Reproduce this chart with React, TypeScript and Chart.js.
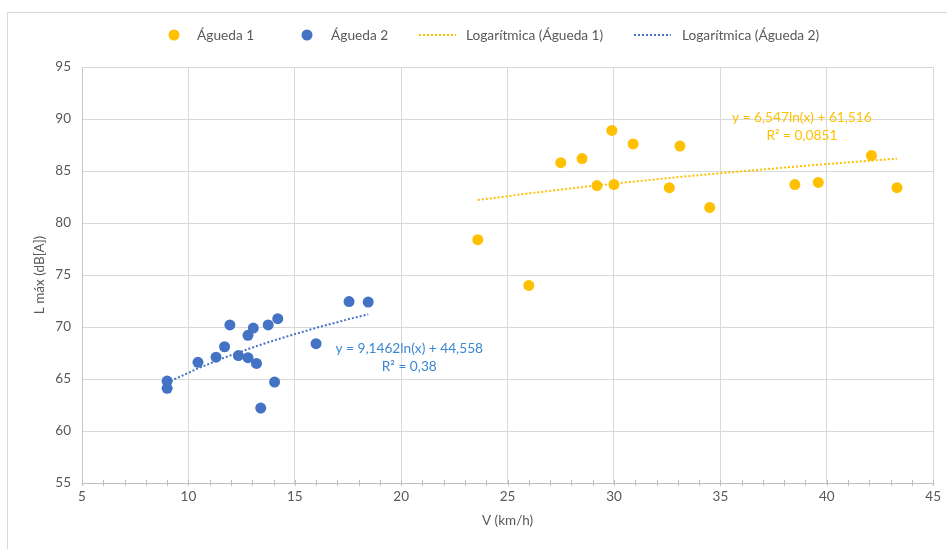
import { useEffect, useRef } from "react";
import { Chart, registerables } from "chart.js";

Chart.register(...registerables);

// Speed (km/h) and maximum sound level (dB[A]) for each measurement site
const speed1 = [23.6, 26.0, 27.5, 28.5, 29.2, 29.9, 30.0, 30.9, 32.6, 33.1, 34.5, 38.5, 39.6, 42.1, 43.3];
const level1 = [78.4, 74.0, 85.8, 86.2, 83.6, 88.9, 83.7, 87.6, 83.4, 87.4, 81.5, 83.7, 83.9, 86.5, 83.4];

const speed2 = [9.0, 9.0, 10.45, 11.3, 11.7, 11.95, 12.35, 12.8, 12.8, 13.05, 13.2, 13.4, 13.75, 14.05, 14.2, 16.0, 17.55, 18.45];
const level2 = [64.8, 64.1, 66.6, 67.1, 68.1, 70.2, 67.25, 67.05, 69.2, 69.9, 66.5, 62.2, 70.2, 64.7, 70.8, 68.4, 72.45, 72.4];

// Logarithmic fits: y = a * ln(x) + b
const fit1 = { a: 6.547, b: 61.516, r2: "0,0851" };
const fit2 = { a: 9.1462, b: 44.558, r2: "0,38" };

const seriesNames = ["Águeda 1", "Águeda 2", "Logarítmica (Águeda 1)", "Logarítmica (Águeda 2)"];
const xRange = [5, 45];
const yRange = [55, 95];
const tickStep = 5;

const ORANGE = "#FFC000";
const BLUE = "#4472C4";
const BLUE_TEXT = "#3A87D3";
const TEXT = "#595959";
const FONT = "Lato, 'Open Sans', sans-serif";

const fmt = (v: number) => v.toLocaleString("pt-PT", { useGrouping: false, maximumFractionDigits: 4 });

// Trend curve evaluated at the observed speeds of the series
function trendPoints(xs: number[], fit: { a: number; b: number }) {
  const uniq = Array.from(new Set(xs)).sort((p, q) => p - q);
  return uniq.map((x) => ({ x, y: fit.a * Math.log(x) + fit.b }));
}

const framePlugin = {
  id: "frame",
  beforeDraw(chart: any) {
    const { ctx, width, height } = chart;
    ctx.save();
    ctx.fillStyle = "#ffffff";
    ctx.fillRect(0, 0, width, height);
    ctx.strokeStyle = "#d9d9d9";
    ctx.lineWidth = 1;
    ctx.strokeRect(7.5, 12.5, width + 20, height + 20);
    ctx.restore();
  },
};

const minorTicksPlugin = {
  id: "minorTicks",
  afterDraw(chart: any) {
    const { ctx, chartArea, scales } = chart;
    const x = scales.x;
    ctx.save();
    ctx.strokeStyle = "#bfbfbf";
    ctx.lineWidth = 1;
    for (let v = xRange[0]; v <= xRange[1]; v += 1) {
      const px = Math.round(x.getPixelForValue(v)) + 0.5;
      ctx.beginPath();
      ctx.moveTo(px, chartArea.bottom - 3);
      ctx.lineTo(px, chartArea.bottom + 3);
      ctx.stroke();
    }
    ctx.restore();
  },
};

const equationLabels = [
  { lines: [`y = ${fmt(fit1.a)}ln(x) + ${fmt(fit1.b)}`, `R² = ${fit1.r2}`], color: ORANGE, x: 38.83, y: 90.1 },
  { lines: [`y = ${fmt(fit2.a)}ln(x) + ${fmt(fit2.b)}`, `R² = ${fit2.r2}`], color: BLUE_TEXT, x: 20.38, y: 67.95 },
];

const equationPlugin = {
  id: "equations",
  afterDatasetsDraw(chart: any) {
    const { ctx, scales } = chart;
    ctx.save();
    ctx.font = `13.7px ${FONT}`;
    ctx.textAlign = "center";
    ctx.textBaseline = "middle";
    for (const lab of equationLabels) {
      const px = scales.x.getPixelForValue(lab.x);
      const py = scales.y.getPixelForValue(lab.y);
      ctx.fillStyle = lab.color;
      lab.lines.forEach((t, i) => ctx.fillText(t, px, py + i * 18));
    }
    ctx.restore();
  },
};

const legendItems = [
  { kind: "dot", color: ORANGE, label: seriesNames[0], mx: 174, tx: 197 },
  { kind: "dot", color: BLUE, label: seriesNames[1], mx: 307, tx: 331 },
  { kind: "line", color: ORANGE, label: seriesNames[2], mx: 419, tx: 466 },
  { kind: "line", color: BLUE, label: seriesNames[3], mx: 634, tx: 682 },
];

const legendPlugin = {
  id: "topLegend",
  afterDraw(chart: any) {
    const { ctx } = chart;
    const y = 35;
    ctx.save();
    ctx.font = `13.7px ${FONT}`;
    ctx.textBaseline = "middle";
    ctx.textAlign = "left";
    for (const it of legendItems) {
      if (it.kind === "dot") {
        ctx.fillStyle = it.color;
        ctx.beginPath();
        ctx.arc(it.mx, y, 5.5, 0, Math.PI * 2);
        ctx.fill();
      } else {
        ctx.strokeStyle = it.color;
        ctx.lineWidth = 2;
        ctx.setLineDash([2, 2]);
        ctx.beginPath();
        ctx.moveTo(it.mx, y);
        ctx.lineTo(it.mx + 37, y);
        ctx.stroke();
        ctx.setLineDash([]);
      }
      ctx.fillStyle = TEXT;
      ctx.fillText(it.label, it.tx, y + 1);
    }
    ctx.restore();
  },
};

export default function App() {
  const canvasRef = useRef<HTMLCanvasElement | null>(null);

  useEffect(() => {
    const canvas = canvasRef.current;
    if (!canvas) return;
    const chart = new Chart(canvas, {
      type: "scatter",
      data: {
        datasets: [
          {
            label: seriesNames[0],
            data: speed1.map((x, i) => ({ x, y: level1[i] })),
            backgroundColor: ORANGE,
            borderColor: ORANGE,
            pointRadius: 5.5,
            pointBorderWidth: 0,
          },
          {
            label: seriesNames[1],
            data: speed2.map((x, i) => ({ x, y: level2[i] })),
            backgroundColor: BLUE,
            borderColor: BLUE,
            pointRadius: 5.5,
            pointBorderWidth: 0,
          },
          {
            label: seriesNames[2],
            data: trendPoints(speed1, fit1),
            showLine: true,
            borderColor: ORANGE,
            borderWidth: 2,
            borderDash: [2, 2],
            pointRadius: 0,
            tension: 0,
          },
          {
            label: seriesNames[3],
            data: trendPoints(speed2, fit2),
            showLine: true,
            borderColor: BLUE,
            borderWidth: 2,
            borderDash: [2, 2],
            pointRadius: 0,
            tension: 0,
          },
        ],
      },
      options: {
        responsive: false,
        animation: false,
        layout: { padding: { top: 67, right: 12, bottom: 0, left: 0 } },
        plugins: {
          legend: { display: false },
          tooltip: { enabled: false },
        },
        scales: {
          x: {
            type: "linear",
            min: xRange[0],
            max: xRange[1],
            ticks: { stepSize: tickStep, color: TEXT, font: { family: FONT, size: 13.5 }, padding: 6 },
            grid: { color: "#d9d9d9", drawTicks: false },
            border: { color: "#bfbfbf" },
            title: {
              display: true,
              text: "V (km/h)",
              color: TEXT,
              font: { family: FONT, size: 13.5 },
              padding: { top: 0, bottom: 20 },
            },
            afterFit(scale: any) {
              scale.height = 66;
            },
          },
          y: {
            type: "linear",
            min: yRange[0],
            max: yRange[1],
            ticks: { stepSize: tickStep, color: TEXT, font: { family: FONT, size: 13.5 }, padding: 11 },
            grid: { color: "#d9d9d9", drawTicks: false },
            border: { color: "#c8c8c8" },
            title: {
              display: true,
              text: "L máx (dB[A])",
              color: TEXT,
              font: { family: FONT, size: 13.5 },
              padding: { top: 32, bottom: 0 },
            },
            afterFit(scale: any) {
              scale.width = 82;
            },
          },
        },
      },
      plugins: [framePlugin, minorTicksPlugin, equationPlugin, legendPlugin],
    });
    return () => chart.destroy();
  }, []);

  return (
    <div style={{ position: "absolute", left: 0, top: 0, width: 947, height: 549, background: "#fff" }}>
      <canvas ref={canvasRef} width={947} height={549} />
    </div>
  );
}
